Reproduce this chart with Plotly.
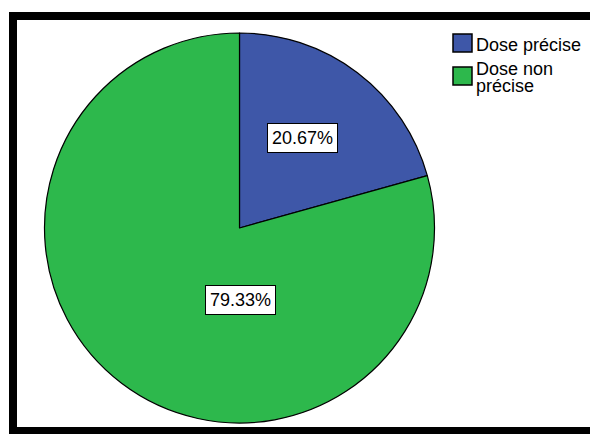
import plotly.graph_objects as go

labels = ["Dose précise", "Dose non précise"]
legend_lines = [["Dose précise"], ["Dose non", "précise"]]
values = [20.67, 79.33]
value_text = ["20.67%", "79.33%"]
colors = ["#3E57A8", "#2DB84C"]

# page has an 8px body margin; figure fills the remaining window
OFF = 8
W, H = 598 - OFF, 434 - OFF
FONT = "Liberation Sans, Arial, sans-serif"


def px(x):
    return (x - OFF) / W


def py(y):
    return 1 - (y - OFF) / H


# pie placement (window pixels): centre (239.5, 228), radius ~195
cx, cy, r = 239.5, 228, 195
fig = go.Figure(go.Pie(
    labels=labels,
    values=values,
    sort=False,
    direction="clockwise",
    rotation=0,
    textinfo="none",
    hoverinfo="label+percent",
    showlegend=False,
    marker=dict(colors=colors, line=dict(color="#000000", width=1.2)),
    domain=dict(x=[px(cx - r), px(cx + r)], y=[py(cy + r), py(cy - r)]),
))

# percentage label boxes (window pixels)
label_pos = [(302.5, 137.5), (240.5, 299.5)]
for t, (lx, ly) in zip(value_text, label_pos):
    fig.add_annotation(
        x=px(lx), y=py(ly), xref="paper", yref="paper",
        text=t, showarrow=False,
        font=dict(family=FONT, size=18, color="#000000"),
        bgcolor="#FFFFFF", bordercolor="#000000", borderwidth=1, borderpad=4,
        xanchor="center", yanchor="middle",
    )

# legend (drawn manually to match the compact SPSS style)
sq_x0, sq_x1 = 453, 472
sq_y = [(34, 52), (67, 85)]
line_y = [[45], [69, 86]]
for col, (y0, y1), lines, ys in zip(colors, sq_y, legend_lines, line_y):
    fig.add_shape(type="rect", xref="paper", yref="paper",
                  x0=px(sq_x0), x1=px(sq_x1), y0=py(y1), y1=py(y0),
                  fillcolor=col, line=dict(color="#000000", width=1.5))
    for txt, ty in zip(lines, ys):
        fig.add_annotation(
            x=px(474), y=py(ty), xref="paper", yref="paper",
            text=txt, showarrow=False, xanchor="left", yanchor="middle",
            font=dict(family=FONT, size=18, color="#000000"),
        )

# outer frame
fig.add_shape(type="rect", xref="paper", yref="paper",
              x0=px(13), x1=1.05, y0=py(431), y1=py(16),
              line=dict(color="#000000", width=8), fillcolor="rgba(0,0,0,0)", layer="above")

fig.update_layout(
    width=W, height=H,
    margin=dict(l=0, r=0, t=0, b=0),
    paper_bgcolor="#FFFFFF", plot_bgcolor="#FFFFFF",
    font=dict(family=FONT, size=18, color="#000000"),
    showlegend=False,
)

fig.write_html("out.html")
